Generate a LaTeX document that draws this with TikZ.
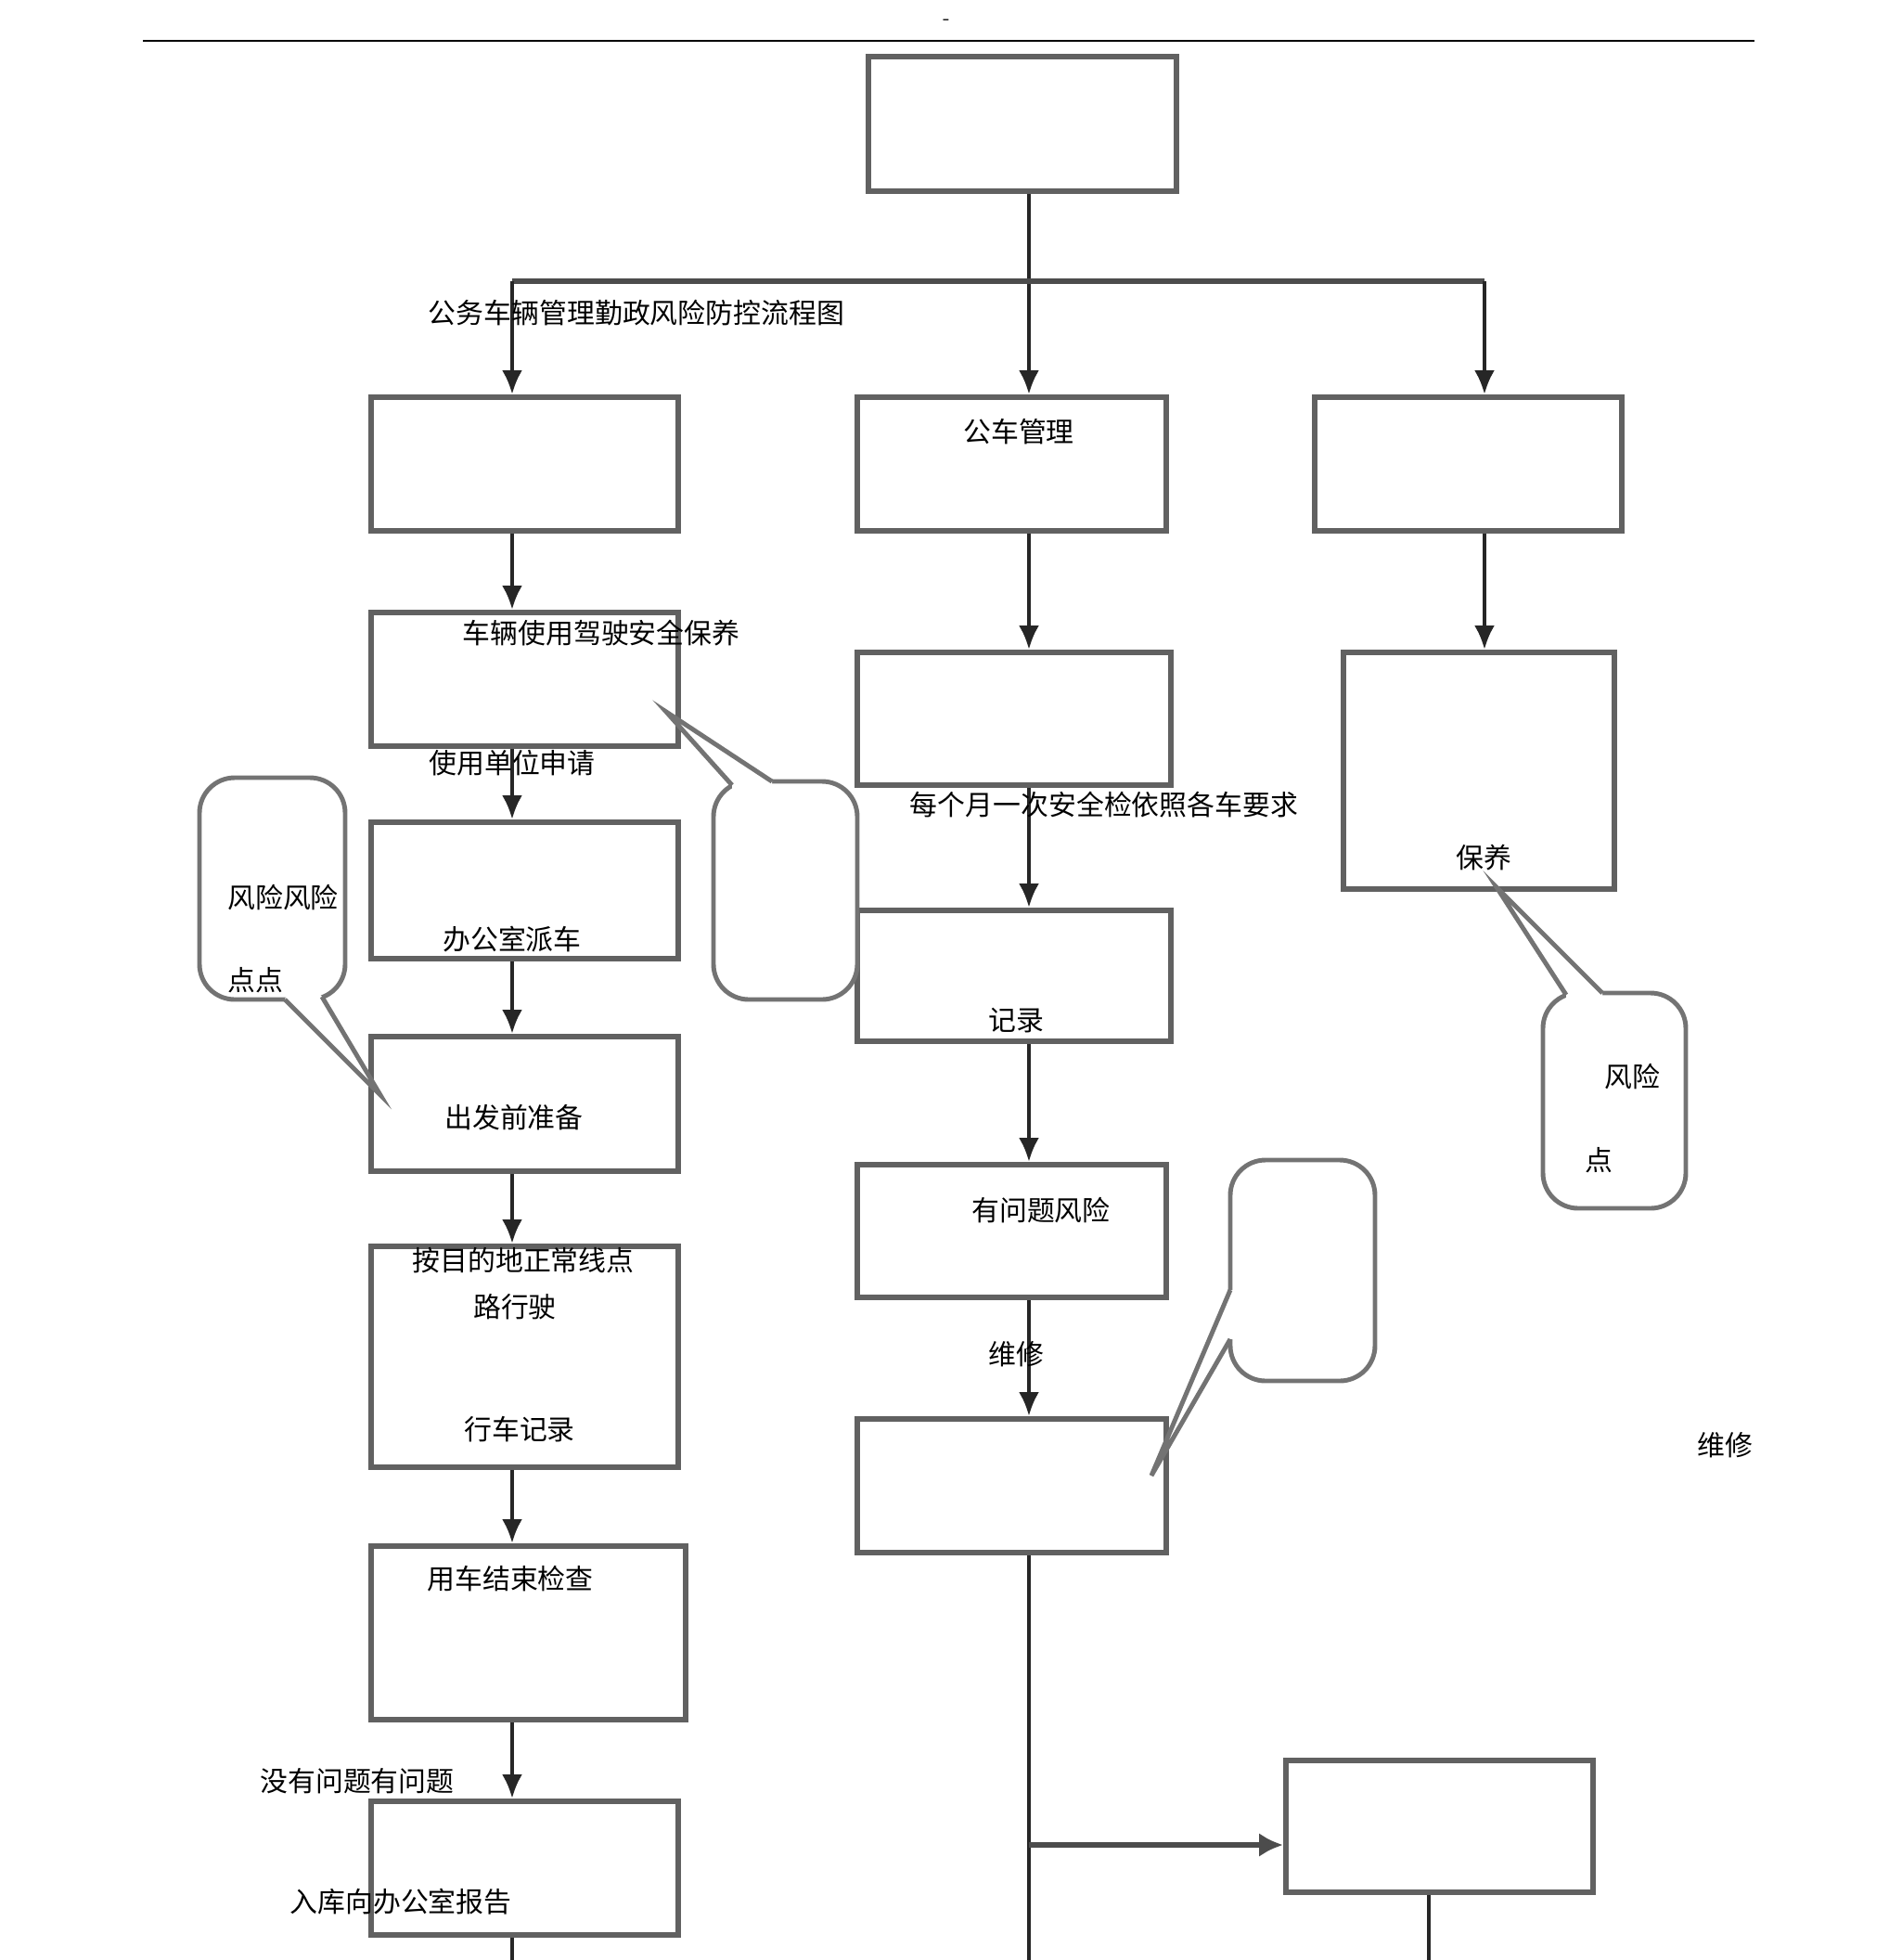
\documentclass[tikz,border=0pt]{standalone}
\usepackage{fontspec}
\newfontfamily\cjk{Noto Sans CJK SC}
\usetikzlibrary{arrows.meta,shapes}
\newcommand{\boxw}{3.31cm}
\newcommand{\boxh}{1.44cm}
\newcommand{\cjksize}{\fontsize{8.5}{10}\selectfont}

\begin{document}
\begin{tikzpicture}
            %\draw[help lines] (0,0) grid (20,-21);
            \tikzset{box/.style = {draw=black!62, line width=1.7pt, fill=white, minimum width=\boxw, minimum height=\boxh, inner sep=0pt},
                     flow/.style = {draw=black!85, line width=1.2pt},
                     arr/.style = {flow, -{Latex[length=2.6mm,width=2.2mm]}},
                     bubble/.style = {draw=black!55, line width=1.4pt, rounded corners=0.38cm, fill=white, inner sep=0pt},
                     lbl/.style = {font=\cjk\cjksize, inner sep=0pt}}
            \useasboundingbox (0,0) rectangle (20.5,-21.12);
            \draw[line width=0.6pt] (1.54,-0.44) -- (18.91,-0.44);
            \node[inner sep=0pt, font=\tiny] (dash) at (10.20,-0.23) {-};
            % columns
            \coordinate (colL) at (5.52,0);
            \coordinate (colM) at (11.09,0);
            \coordinate (colR) at (16.00,0);
            \coordinate (colB) at (15.40,0);
            \coordinate (bot) at (0,-21.12);
            \coordinate (split) at (11.09,-3.03);
            \coordinate (brk) at (11.09,-19.88);
            % boxes
            \node[box, minimum width=3.32cm, minimum height=1.45cm] (top) at (11.02,-1.335) {};
            \node[box] (L1) at (5.655,-5.00) {};
            \node[box, minimum width=3.33cm] (M1) at (10.905,-5.00) {};
            \node[box] (R1) at (15.825,-5.00) {};
            \node[box] (L2) at (5.655,-7.32) {};
            \node[box, minimum height=1.47cm] (L3) at (5.655,-9.595) {};
            \node[box, minimum height=1.45cm] (L4) at (5.655,-11.895) {};
            \node[box, minimum height=2.38cm] (L5) at (5.655,-14.62) {};
            \node[box, minimum width=3.39cm, minimum height=1.87cm] (L6) at (5.695,-17.595) {};
            \node[box] (L7) at (5.655,-20.13) {};
            \node[box, minimum width=3.38cm, minimum height=1.43cm] (M2) at (10.93,-7.745) {};
            \node[box, minimum width=3.38cm, minimum height=1.41cm] (M3) at (10.93,-10.515) {};
            \node[box, minimum width=3.33cm, minimum height=1.43cm] (M4) at (10.905,-13.265) {};
            \node[box, minimum width=3.33cm] (M5) at (10.905,-16.01) {};
            \node[box, minimum width=2.92cm, minimum height=2.55cm] (R2) at (15.94,-8.305) {};
            \node[box, minimum height=1.42cm] (R3) at (15.515,-19.68) {};
            % connectors
            \draw[flow] (top.south -| colM) -- (split);
            \draw[arr] (split) -- (M1.north -| colM);
            \draw[flow, line width=1.9pt, draw=black!70] (split -| colL) -- (split -| colR);
            \draw[arr] (split -| colL) -- (L1.north -| colL);
            \draw[arr] (split -| colR) -- (R1.north -| colR);
            \foreach \a/\b in {L1/L2,L2/L3,L3/L4,L4/L5,L5/L6,L6/L7}
                \draw[arr] (\a.south -| colL) -- (\b.north -| colL);
            \foreach \a/\b in {M1/M2,M2/M3,M3/M4,M4/M5}
                \draw[arr] (\a.south -| colM) -- (\b.north -| colM);
            \draw[arr] (R1.south -| colR) -- (R2.north -| colR);
            \draw[flow] (M5.south -| colM) -- (colM |- bot);
            \draw[flow, line width=1.9pt, draw=black!70, -{Latex[length=2.6mm,width=2.6mm]}] (brk) -- (brk -| R3.west);
            \draw[flow] (R3.south -| colB) -- (colB |- bot);
            \draw[flow] (L7.south -| colL) -- (colL |- bot);
            % callouts
            \node[bubble, minimum width=1.57cm, minimum height=2.39cm] (risk1) at (2.935,-9.575) {};
            \fill[white] (3.07,-10.77) -- (4.10,-11.80) -- (3.47,-10.74) -- (3.42,-10.68) -- (3.10,-10.68) -- cycle;
            \draw[draw=black!55, line width=1.4pt] (3.07,-10.77) -- (4.10,-11.80) -- (3.47,-10.74);
            \node[bubble, minimum width=1.55cm, minimum height=2.35cm] (risk2) at (8.465,-9.595) {};
            \fill[white] (7.89,-8.46) -- (7.18,-7.67) -- (8.32,-8.42) -- (8.32,-8.52) -- (7.89,-8.54) -- cycle;
            \draw[draw=black!55, line width=1.4pt] (7.89,-8.46) -- (7.18,-7.67) -- (8.32,-8.42);
            \node[bubble, minimum width=1.56cm, minimum height=2.38cm] (risk3) at (14.04,-13.69) {};
            \fill[white] (13.26,-13.90) -- (12.41,-15.90) -- (13.26,-14.43) -- (13.34,-14.43) -- (13.34,-13.90) -- cycle;
            \draw[draw=black!55, line width=1.4pt] (13.26,-13.90) -- (12.41,-15.90) -- (13.26,-14.43);
            \node[bubble, minimum width=1.54cm, minimum height=2.32cm] (risk4) at (17.40,-11.86) {};
            \fill[white] (16.88,-10.72) -- (16.13,-9.56) -- (17.27,-10.70) -- (17.27,-10.80) -- (16.88,-10.80) -- cycle;
            \draw[draw=black!55, line width=1.4pt] (16.88,-10.72) -- (16.13,-9.56) -- (17.27,-10.70);
            % texts
            \node[lbl] (title) at (6.86,-3.37) {公务车辆管理勤政风险防控流程图};
            \node[lbl] (t1) at (10.98,-4.65) {公车管理};
            \node[lbl] (t2) at (6.48,-6.82) {车辆使用驾驶安全保养};
            \node[lbl] (t3) at (5.52,-8.22) {使用单位申请};
            \node[lbl] (t4) at (5.52,-10.12) {办公室派车};
            \node[lbl] (t5) at (5.54,-12.04) {出发前准备};
            \node[lbl] (t6) at (5.64,-13.58) {按目的地正常线点};
            \node[lbl] (t7) at (5.55,-14.08) {路行驶};
            \node[lbl] (t8) at (5.60,-15.40) {行车记录};
            \node[lbl] (t9) at (5.50,-17.01) {用车结束检查};
            \node[lbl] (t10) at (3.85,-19.19) {没有问题有问题};
            \node[lbl] (t11) at (4.32,-20.49) {入库向办公室报告};
            \node[lbl] (t12) at (11.90,-8.67) {每个月一次安全检依照各车要求};
            \node[lbl] (t13) at (10.95,-11.00) {记录};
            \node[lbl] (t14) at (11.22,-13.04) {有问题风险};
            \node[lbl] (t15) at (10.95,-14.59) {维修};
            \node[lbl] (t16) at (15.99,-9.24) {保养};
            \node[lbl] (t17) at (3.05,-9.67) {风险风险};
            \node[lbl] (t18) at (2.75,-10.56) {点点};
            \node[lbl] (t19) at (17.59,-11.60) {风险};
            \node[lbl] (t20) at (17.23,-12.50) {点};
            \node[lbl] (t21) at (18.59,-15.57) {维修};
\end{tikzpicture}
\end{document}
